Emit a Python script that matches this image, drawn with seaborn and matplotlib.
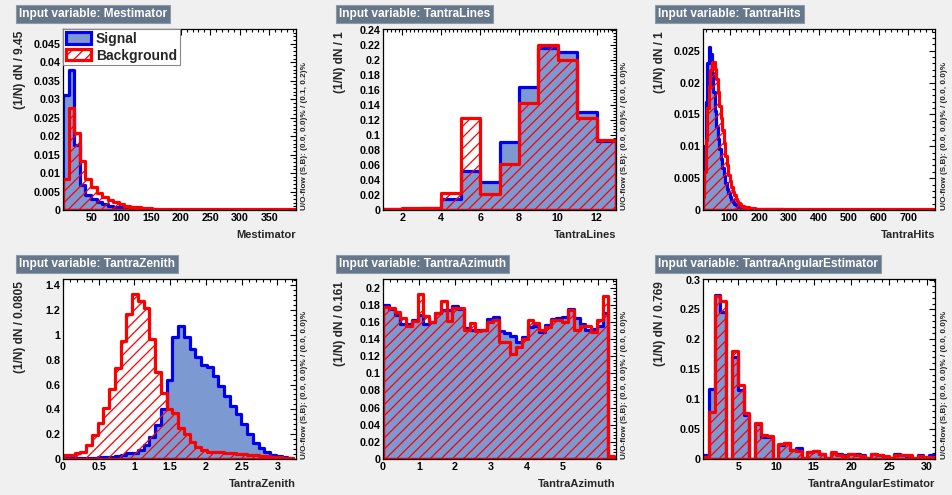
import numpy as np
import pandas as pd
import matplotlib
matplotlib.use("Agg")
import matplotlib.pyplot as plt
from matplotlib.patches import Patch
from matplotlib.ticker import MultipleLocator, AutoMinorLocator, FuncFormatter
import seaborn as sns

sns.set_theme(style="white")
plt.rcParams["font.family"] = ["Liberation Sans", "DejaVu Sans"]
plt.rcParams["font.weight"] = "bold"
plt.rcParams["hatch.linewidth"] = 0.9
plt.rcParams["hatch.color"] = "#ff0000"

SIG_FILL = "#7d99d1"
SIG_LINE = "#0000ee"
BKG_LINE = "#ff0000"
TITLE_BOX = "#66778b"
BG = "#f0f0f0"
LW = 2.3

# ---- Mestimator (bin width 9.45) ----
mest_start, mest_width = 1.0, 9.45
mest_sig = [0.031, 0.038, 0.0175, 0.0068, 0.0040, 0.0030, 0.0023, 0.0017, 0.0012, 0.0009,
            0.0007, 0.0005, 0.0004, 0.0003, 0.0003, 0.0002, 0.0002, 0.0001, 0.0001, 0.0001,
            0.0001, 0.0001, 0.0001, 0.0001, 0.0001, 0.0001, 0.0001, 0.0001, 0.0001, 0.0001,
            0.0001, 0.0001, 0.0001, 0.0001, 0.0001, 0.0001, 0.0001, 0.0001, 0.0001, 0.0001,
            0.0001, 0.0001]
mest_bkg = [0.0085, 0.0275, 0.0208, 0.0133, 0.0085, 0.0062, 0.0045, 0.0035, 0.0027, 0.0021,
            0.0016, 0.0012, 0.0009, 0.0007, 0.0006, 0.0005, 0.0004, 0.0003, 0.0003, 0.0002,
            0.0002, 0.0002, 0.0002, 0.0002, 0.0002, 0.0002, 0.0002, 0.0002, 0.0002, 0.0002,
            0.0002, 0.0002, 0.0002, 0.0002, 0.0002, 0.0002, 0.0002, 0.0002, 0.0002, 0.0002,
            0.0002, 0.0002]

# ---- TantraLines (bin width 1) ----
lines_edges = [1, 2, 3, 4, 5, 6, 7, 8, 9, 10, 11, 12, 13]
lines_sig = [0.001, 0.001, 0.003, 0.014, 0.052, 0.037, 0.090, 0.164, 0.216, 0.210, 0.130, 0.092]
lines_bkg = [0.001, 0.002, 0.003, 0.022, 0.122, 0.021, 0.061, 0.142, 0.220, 0.200, 0.122, 0.093]

# ---- TantraHits (drawn with 5-unit bins, coarse tail) ----
hits_edges = list(range(10, 205, 5)) + [250, 280, 790]
hits_sig = [0.0040, 0.0100, 0.0170, 0.0230, 0.0255, 0.0245, 0.0215, 0.0185, 0.0155, 0.0130,
            0.0112, 0.0096, 0.0080, 0.0066, 0.0053, 0.0042, 0.0033, 0.0026, 0.0020, 0.0016,
            0.0013, 0.0010, 0.0008, 0.0006, 0.0005, 0.0004, 0.00035, 0.0003, 0.00028, 0.00025,
            0.00022, 0.0002, 0.0002, 0.0002, 0.00018, 0.00016, 0.00015, 0.00015,
            0.00012, 0.0001, 0.0]
hits_bkg = [0.0020, 0.0060, 0.0110, 0.0160, 0.0195, 0.0220, 0.0233, 0.0232, 0.0222, 0.0205,
            0.0185, 0.0163, 0.0145, 0.0125, 0.0105, 0.0085, 0.0070, 0.0055, 0.0045, 0.0036,
            0.0029, 0.0023, 0.0018, 0.0014, 0.0011, 0.0009, 0.0007, 0.0006, 0.0005, 0.00045,
            0.0004, 0.00035, 0.0003, 0.0003, 0.00025, 0.00022, 0.0002, 0.0002,
            0.00015, 0.00012, 0.0001]

# ---- TantraZenith (bin width 0.0805) ----
zen_start, zen_width = 0.0, 0.0805
zen_sig = [0.01, 0.01, 0.01, 0.01, 0.01, 0.01, 0.015, 0.02, 0.02, 0.025,
           0.03, 0.045, 0.05, 0.07, 0.11, 0.18, 0.27, 0.40, 0.64, 0.98,
           1.07, 0.98, 0.89, 0.82, 0.76, 0.74, 0.67, 0.59, 0.51, 0.43,
           0.36, 0.28, 0.20, 0.13, 0.085, 0.06, 0.035, 0.025, 0.015, 0.01]
zen_bkg = [0.03, 0.03, 0.05, 0.06, 0.11, 0.19, 0.29, 0.41, 0.56, 0.73,
           0.95, 1.17, 1.33, 1.27, 1.22, 0.97, 0.70, 0.53, 0.40, 0.37,
           0.25, 0.20, 0.14, 0.10, 0.075, 0.06, 0.06, 0.055, 0.05, 0.045,
           0.04, 0.04, 0.035, 0.03, 0.025, 0.025, 0.02, 0.015, 0.01, 0.01]

# ---- TantraAzimuth (bin width 0.161) ----
az_start, az_width = 0.0, 0.161
az_sig = [0.180, 0.175, 0.168, 0.158, 0.158, 0.162, 0.168, 0.158, 0.160, 0.170,
          0.174, 0.174, 0.178, 0.175, 0.153, 0.151, 0.150, 0.151, 0.163, 0.166,
          0.149, 0.147, 0.143, 0.136, 0.142, 0.154, 0.155, 0.148, 0.156, 0.163,
          0.165, 0.166, 0.175, 0.165, 0.158, 0.150, 0.152, 0.155, 0.170, 0.0]
az_bkg = [0.177, 0.176, 0.172, 0.165, 0.155, 0.161, 0.193, 0.167, 0.160, 0.170,
          0.184, 0.161, 0.176, 0.176, 0.150, 0.159, 0.149, 0.150, 0.160, 0.162,
          0.136, 0.136, 0.122, 0.131, 0.140, 0.162, 0.159, 0.151, 0.154, 0.162,
          0.162, 0.160, 0.174, 0.151, 0.155, 0.155, 0.148, 0.162, 0.190, 0.004]

# ---- TantraAngularEstimator (bin width 0.769) ----
ang_start, ang_width = 0.32, 0.769
ang_sig = [0.006, 0.117, 0.275, 0.245, 0.0, 0.170, 0.115, 0.073, 0.0, 0.058,
           0.037, 0.036, 0.0, 0.024, 0.026, 0.015, 0.019, 0.002, 0.011, 0.013,
           0.009, 0.002, 0.010, 0.009, 0.006, 0.008, 0.009, 0.006, 0.001, 0.009,
           0.006, 0.004, 0.001, 0.009, 0.006, 0.005, 0.001, 0.006, 0.004, 0.006]
ang_bkg = [0.004, 0.078, 0.273, 0.265, 0.0, 0.180, 0.123, 0.077, 0.0, 0.061,
           0.040, 0.038, 0.0, 0.025, 0.027, 0.015, 0.014, 0.002, 0.012, 0.014,
           0.009, 0.002, 0.012, 0.007, 0.005, 0.009, 0.007, 0.005, 0.001, 0.008,
           0.006, 0.005, 0.001, 0.007, 0.006, 0.006, 0.001, 0.005, 0.003, 0.004]


def regular_edges(start, width, n):
    return [start + width * k for k in range(n + 1)]


panels = [
    dict(name="Mestimator", edges=regular_edges(mest_start, mest_width, len(mest_sig)),
         sig=mest_sig, bkg=mest_bkg, ylabel="(1/N) dN / 9.45",
         xlim=(1, 395), ylim=(0, 0.049), xmaj=50, xmin_n=5, ymaj=0.005,
         flow="U/O-flow (S,B): (0.0, 0.0)% / (0.1, 0.2)%"),
    dict(name="TantraLines", edges=[float(e) for e in lines_edges],
         sig=lines_sig, bkg=lines_bkg, ylabel="(1/N) dN / 1",
         xlim=(1, 13), ylim=(0, 0.241), xmaj=2, xmin_n=10, ymaj=0.02,
         flow="U/O-flow (S,B): (0.0, 0.0)% / (0.0, 0.0)%"),
    dict(name="TantraHits", edges=[float(e) for e in hits_edges],
         sig=hits_sig, bkg=hits_bkg, ylabel="(1/N) dN / 1",
         xlim=(11, 789), ylim=(0, 0.0284), xmaj=100, xmin_n=5, ymaj=0.005,
         flow="U/O-flow (S,B): (0.0, 0.0)% / (0.0, 0.0)%"),
    dict(name="TantraZenith", edges=regular_edges(zen_start, zen_width, len(zen_sig)),
         sig=zen_sig, bkg=zen_bkg, ylabel="(1/N) dN / 0.0805",
         xlim=(0, 3.26), ylim=(0, 1.45), xmaj=0.5, xmin_n=5, ymaj=0.2,
         flow="U/O-flow (S,B): (0.0, 0.0)% / (0.0, 0.0)%"),
    dict(name="TantraAzimuth", edges=regular_edges(az_start, az_width, len(az_sig)),
         sig=az_sig, bkg=az_bkg, ylabel="(1/N) dN / 0.161",
         xlim=(0, 6.49), ylim=(0, 0.21), xmaj=1, xmin_n=5, ymaj=0.02,
         flow="U/O-flow (S,B): (0.0, 0.0)% / (0.0, 0.0)%"),
    dict(name="TantraAngularEstimator", edges=regular_edges(ang_start, ang_width, len(ang_sig)),
         sig=ang_sig, bkg=ang_bkg, ylabel="(1/N) dN / 0.769",
         xlim=(0.32, 31.08), ylim=(0, 0.301), xmaj=5, xmin_n=5, ymaj=0.05,
         flow="U/O-flow (S,B): (0.0, 0.0)% / (0.0, 0.0)%"),
]

W, H = 952, 495
fig = plt.figure(figsize=(W / 100, H / 100), dpi=100, facecolor=BG)

col_left = [63, 383, 703]
col_right = [296, 616, 935]
row_top = [29, 279]
row_bottom = [210, 459]
title_left = [16, 336, 655]
title_mid = [14, 264]

fmt = FuncFormatter(lambda v, p: f"{v:g}")

for i, p in enumerate(panels):
    r, c = divmod(i, 3)
    l, rt, t, b = col_left[c], col_right[c], row_top[r], row_bottom[r]
    ax = fig.add_axes([l / W, 1 - b / H, (rt - l) / W, (b - t) / H])
    ax.set_facecolor("white")

    edges = p["edges"]
    df = pd.DataFrame({
        "x": [(a + z) / 2 for a, z in zip(edges[:-1], edges[1:])],
        "sig": p["sig"],
        "bkg": p["bkg"],
    })
    sns.histplot(data=df, x="x", weights="sig", bins=edges, element="step", fill=True,
                 color=SIG_LINE, facecolor=SIG_FILL, edgecolor=SIG_LINE,
                 linewidth=LW, ax=ax)
    sns.histplot(data=df, x="x", weights="bkg", bins=edges, element="step", fill=True,
                 color=BKG_LINE, facecolor="none", edgecolor=BKG_LINE, hatch="///",
                 linewidth=LW, ax=ax)

    ax.set_xlim(*p["xlim"])
    ax.set_ylim(*p["ylim"])
    ax.xaxis.set_major_locator(MultipleLocator(p["xmaj"]))
    ax.xaxis.set_minor_locator(AutoMinorLocator(p["xmin_n"]))
    ax.yaxis.set_major_locator(MultipleLocator(p["ymaj"]))
    ax.yaxis.set_minor_locator(AutoMinorLocator(5))
    ax.xaxis.set_major_formatter(fmt)
    ax.yaxis.set_major_formatter(fmt)
    ax.tick_params(which="both", direction="in", top=True, right=True,
                   colors="black", labelsize=7.7, pad=2, width=0.8)
    ax.tick_params(which="major", length=4.5)
    ax.tick_params(which="minor", length=2.2)
    for lab in ax.get_xticklabels() + ax.get_yticklabels():
        lab.set_fontweight("bold")
    for s in ax.spines.values():
        s.set_color("black")
        s.set_linewidth(0.9)
        s.set_zorder(5)

    ax.set_ylabel("")
    ax.set_xlabel(p["name"], fontsize=8.0, fontweight="bold", loc="right", labelpad=0)
    ax.xaxis.set_label_coords(1.0, -20 / (b - t))

    fig.text((l - 43) / W, 1 - (t + 2) / H, p["ylabel"], rotation=90,
             ha="center", va="top", fontsize=8.6, fontweight="bold")
    fig.text((rt + 9) / W, 1 - b / H, p["flow"], rotation=90,
             ha="center", va="bottom", fontsize=5.9, fontweight="bold")
    fig.text((title_left[c] + 3) / W, 1 - title_mid[r] / H,
             "Input variable: " + p["name"], color="white", fontweight="bold",
             fontsize=8.6, ha="left", va="center",
             bbox=dict(boxstyle="square,pad=0.25", fc=TITLE_BOX, ec="#8e9aa8", lw=0.8))

    if i == 0:
        handles = [Patch(facecolor=SIG_FILL, edgecolor=SIG_LINE, linewidth=LW),
                   Patch(facecolor="none", edgecolor=BKG_LINE, hatch="///", linewidth=LW)]
        leg = ax.legend(handles, ["Signal", "Background"], loc="upper left",
                        bbox_to_anchor=(0, 1.0), borderaxespad=0, fancybox=False,
                        framealpha=1, edgecolor="#888888",
                        prop={"weight": "bold", "size": 10}, handlelength=1.8,
                        handleheight=0.85, handletextpad=0.35, labelspacing=0.2,
                        borderpad=0.2)
        leg.get_frame().set_linewidth(0.8)

fig.savefig("out.png", dpi=100, facecolor=BG)
